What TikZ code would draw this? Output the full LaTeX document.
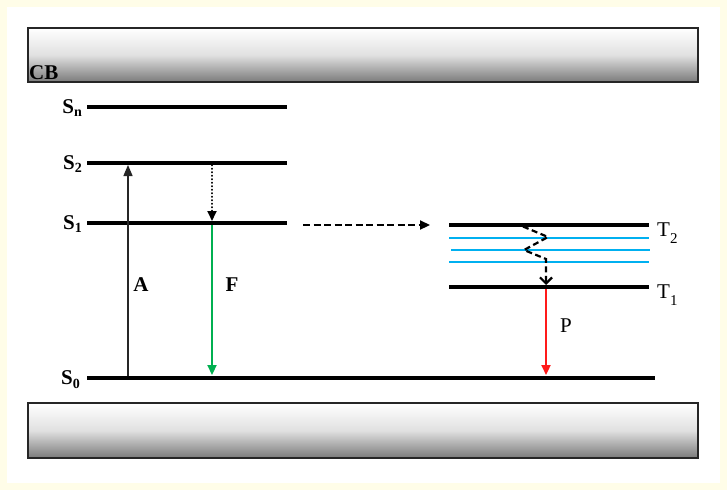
\documentclass[tikz,border=0pt]{standalone}
\usepackage{fontspec}
\setmainfont{Liberation Serif}
\usetikzlibrary{arrows.meta}
\definecolor{cream}{HTML}{FFFDE8}
\definecolor{fgreen}{HTML}{00B050}
\definecolor{cyanl}{HTML}{00B0F0}
\definecolor{fred}{HTML}{FF1A1A}
\newcommand\levlab[2]{#1\raisebox{-0.4ex}{\fontsize{14}{14}\selectfont #2}}
\begin{document}
\begin{tikzpicture}[x=1pt,y=-1pt,
  level/.style={line width=4pt},
  sublevel/.style={cyanl, line width=1.2pt},
  band/.style={draw=black!85, line width=1.5pt, top color=white, bottom color=black!52, middle color=black!12},
  blab/.style={font=\bfseries\fontsize{21}{21}\selectfont, inner sep=0pt},
  rlab/.style={font=\fontsize{21}{21}\selectfont, inner sep=0pt},
  tri/.style={-{Triangle[length=10pt,width=9pt]}},
]
\useasboundingbox (0,0) rectangle (727,490);
\fill[cream] (0,0) rectangle (727,490);
\fill[white] (7,7) rectangle (720,483);

% bands
\path[band] (28,28) rectangle (698,82);
\path[band] (28,403) rectangle (698,458);
\node[blab, anchor=south west] (cb) at (29,80) {CB};

% level coordinates
\coordinate (snL) at (87,107);  \coordinate (snR) at (287,107);
\coordinate (s2L) at (87,163);  \coordinate (s2R) at (287,163);
\coordinate (s1L) at (87,223);  \coordinate (s1R) at (287,223);
\coordinate (s0L) at (87,378);  \coordinate (s0R) at (655,378);
\coordinate (t2L) at (449,225); \coordinate (t2R) at (649,225);
\coordinate (t1L) at (449,287); \coordinate (t1R) at (649,287);

\draw[level] (snL) -- (snR);
\draw[level] (s2L) -- (s2R);
\draw[level] (s1L) -- (s1R);
\draw[level] (s0L) -- (s0R);
\draw[level] (t2L) -- (t2R);
\draw[level] (t1L) -- (t1R);

% vibrational sublevels
\coordinate (v1L) at (449,238); \coordinate (v1R) at (649,238);
\coordinate (v2L) at (451,250); \coordinate (v2R) at (650,250);
\coordinate (v3L) at (449,262); \coordinate (v3R) at (649,262);
\draw[sublevel] (v1L) -- (v1R);
\draw[sublevel] (v2L) -- (v2R);
\draw[sublevel] (v3L) -- (v3R);

% labels
\node[blab, anchor=east] (sn) at (82,108) {\levlab{S}{n}};
\node[blab, anchor=east] (s2) at (82,164) {\levlab{S}{2}};
\node[blab, anchor=east] (s1) at (82,224) {\levlab{S}{1}};
\node[blab, anchor=east] (s0) at (80,380) {\levlab{S}{0}};
\node[rlab, anchor=west] (t2) at (657,233) {T\raisebox{-0.7ex}{\fontsize{15}{15}\selectfont 2}};
\node[rlab, anchor=west] (t1) at (657,295) {T\raisebox{-0.7ex}{\fontsize{15}{15}\selectfont 1}};
\node[blab] (la) at (141,285) {A};
\node[blab] (lf) at (232,285) {F};
\node[rlab] (lp) at (566,326) {P};

% arrows
\coordinate (aB) at (128,376);
\coordinate (aT) at (128,165);
\draw[-{Triangle[length=11pt,width=9pt]}, line width=1.3pt, black!85] (aB) -- (aT);

\coordinate (dT) at (212,165);
\coordinate (dB) at (212,221);
\draw[tri, line width=1.8pt, line cap=round, dash pattern=on 0.5pt off 3pt] (dT) -- (dB);

\coordinate (fT) at (212,225);
\coordinate (fB) at (212,375);
\draw[tri, fgreen, line width=2.2pt] (fT) -- (fB);

\coordinate (hL) at (303,225);
\coordinate (hR) at (430,225);
\draw[-{Triangle[length=10pt,width=9pt]}, line width=2.2pt, dash pattern=on 7pt off 3.5pt] (hL) -- (hR);

\coordinate (z0) at (523,226.5);
\coordinate (z1) at (548,237);
\coordinate (z2) at (524,250);
\coordinate (z3) at (546,259);
\coordinate (z4) at (546,285);
\draw[-{Straight Barb[length=6pt,width=12pt]}, line width=2.2pt, dash pattern=on 6pt off 3.5pt] (z0) -- (z1) -- (z2) -- (z3) -- (z4);

\coordinate (pT) at (546,289);
\coordinate (pB) at (546,375);
\draw[tri, fred, line width=2.2pt] (pT) -- (pB);
\end{tikzpicture}
\end{document}
